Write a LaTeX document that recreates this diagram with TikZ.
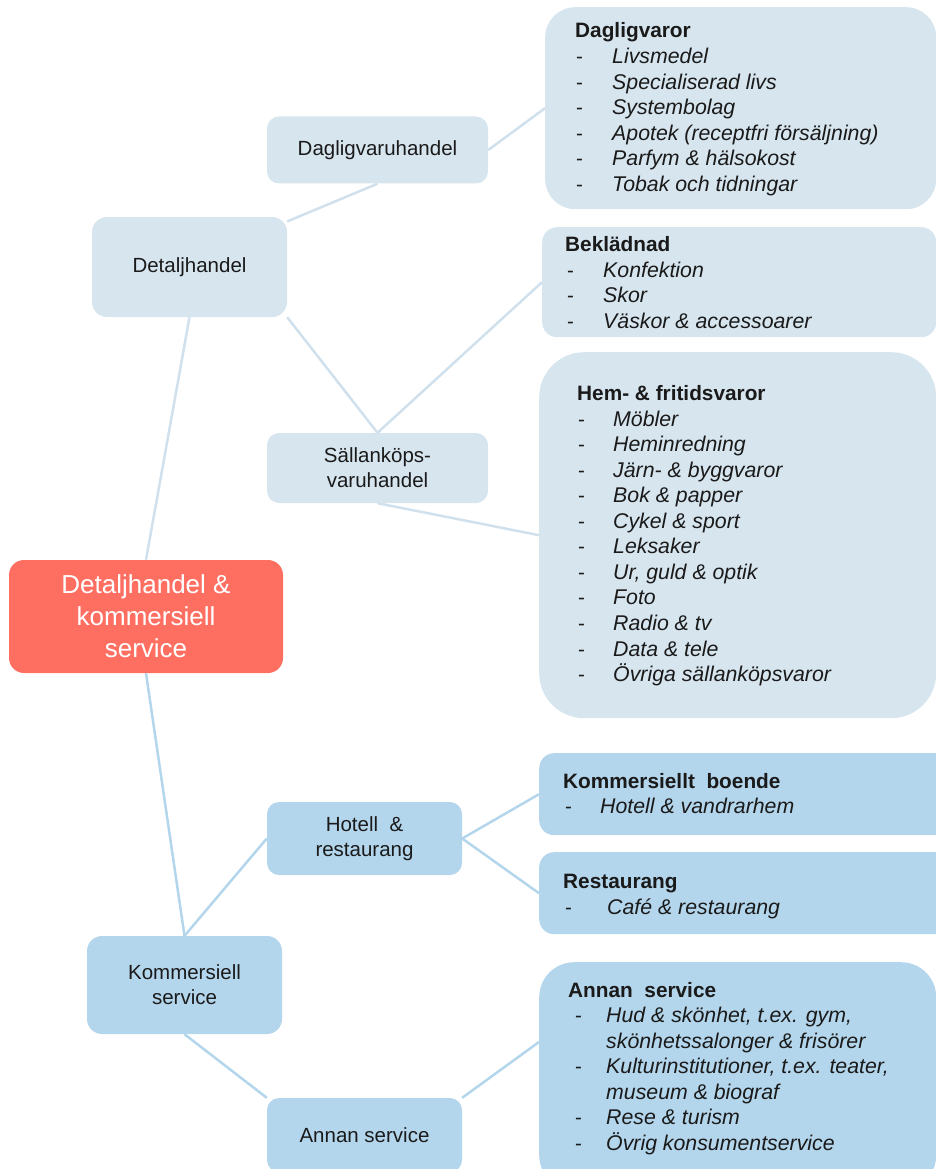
\documentclass[tikz,border=0pt]{standalone}
\usepackage{fontspec}
\setmainfont{Liberation Sans}
\usetikzlibrary{calc}
\definecolor{paleblue}{HTML}{D7E5EF}
\definecolor{midblue}{HTML}{B4D6EC}
\definecolor{redbox}{HTML}{FF6F61}
\definecolor{ink}{HTML}{1A1A1A}
\definecolor{paleline}{HTML}{D0E1ED}
\tikzset{
  basebox/.style={rectangle, inner sep=0pt, text=ink, align=center, font=\fontsize{20.5}{25}\selectfont},
  palebox/.style={basebox, fill=paleblue},
  midbox/.style={basebox, fill=midblue},
  listbox/.style={rectangle, inner sep=0pt, anchor=north west},
  headtxt/.style={anchor=base west, inner sep=0pt, text=ink, font=\fontsize{20.8}{25}\selectfont\bfseries},
  itemtxt/.style={anchor=base west, inner sep=0pt, text=ink, font=\fontsize{21.3}{25}\selectfont\itshape},
  dashmark/.style={anchor=base west, inner sep=0pt, text=ink, font=\fontsize{20.5}{25}\selectfont},
  linkpale/.style={line width=2.5pt, paleline},
  linkmid/.style={line width=2.5pt, midblue},
}
\begin{document}
\begin{tikzpicture}[x=1pt,y=-1pt]
\useasboundingbox (0,0) rectangle (936,1169);
\clip (0,0) rectangle (936,1169);

% root
\node[basebox, fill=redbox, text=white, font=\fontsize{26}{32}\selectfont, rounded corners=15pt,
      minimum width=274pt, minimum height=113pt] (root) at (146,616.5)
      {Detaljhandel \&\\kommersiell\\service};

% second level
\node[palebox, rounded corners=15pt, minimum width=195pt, minimum height=100pt] (detalj) at (189.5,267) {Detaljhandel};
\node[midbox, rounded corners=15pt, minimum width=195pt, minimum height=98pt] (komm) at (184.5,985) {Kommersiell\\service};

% third level
\node[palebox, rounded corners=12pt, minimum width=221pt, minimum height=67pt] (dagh) at (377.5,150) {Dagligvaruhandel};
\node[palebox, rounded corners=12pt, minimum width=221pt, minimum height=70pt] (sallan) at (377.5,468) {Sällanköps-\\varuhandel};
\node[midbox, rounded corners=12pt, minimum width=195pt, minimum height=73pt] (hotell) at (364.5,838.5) {Hotell\ \ \&\\restaurang};
\node[midbox, rounded corners=12pt, minimum width=195pt, minimum height=74pt] (annan) at (364.5,1135) {Annan service};

% list boxes
\node[listbox, fill=paleblue, rounded corners=30pt, minimum width=391pt, minimum height=202pt] (dvbox) at (545,7) {};
\node[listbox, fill=paleblue, rounded corners=15pt, minimum width=394pt, minimum height=110pt] (bekbox) at (542,227) {};
\node[listbox, fill=paleblue, rounded corners=45pt, minimum width=397pt, minimum height=366pt] (hembox) at (539,352) {};
\node[listbox, fill=midblue, rounded corners=15pt, minimum width=420pt, minimum height=82pt] (kbbox) at (539,753) {};
\node[listbox, fill=midblue, rounded corners=15pt, minimum width=420pt, minimum height=82pt] (restbox) at (539,852) {};
\node[listbox, fill=midblue, rounded corners=35pt, minimum width=397pt, minimum height=228pt] (annbox) at (539,962) {};

% Dagligvaror
\node[headtxt] (dvhead) at (575,38) {Dagligvaror};
\foreach \t [count=\i] in {Livsmedel, Specialiserad livs, Systembolag, Apotek (receptfri försäljning), Parfym \& hälsokost, Tobak och tidningar}{
  \node[dashmark] (dvd\i) at (576,{64+25.5*(\i-1)}) {-};
  \node[itemtxt] (dvi\i) at (612,{64+25.5*(\i-1)}) {\t};
}

% Beklädnad
\node[headtxt] (bekhead) at (565,251) {Beklädnad};
\foreach \t [count=\i] in {Konfektion, Skor, Väskor \& accessoarer}{
  \node[dashmark] (bekd\i) at (567,{277+25.5*(\i-1)}) {-};
  \node[itemtxt] (beki\i) at (603,{277+25.5*(\i-1)}) {\t};
}

% Hem- & fritidsvaror
\node[headtxt] (hemhead) at (577,400) {Hem- \& fritidsvaror};
\foreach \t [count=\i] in {Möbler, Heminredning, Järn- \& byggvaror, Bok \& papper, Cykel \& sport, Leksaker, {Ur, guld \& optik}, Foto, Radio \& tv, Data \& tele, Övriga sällanköpsvaror}{
  \node[dashmark] (hemd\i) at (578,{426+25.57*(\i-1)}) {-};
  \node[itemtxt] (hemi\i) at (613,{426+25.57*(\i-1)}) {\t};
}

% Kommersiellt boende
\node[headtxt] (kbhead) at (563,788) {Kommersiellt\ \ boende};
\node[dashmark] (kbd1) at (565,813) {-};
\node[itemtxt] (kbi1) at (600,813) {Hotell \& vandrarhem};

% Restaurang
\node[headtxt] (resthead) at (563,888) {Restaurang};
\node[dashmark] (restd1) at (565,914) {-};
\node[itemtxt] (resti1) at (607,914) {Café \& restaurang};

% Annan service list
\node[headtxt] (annhead) at (568,997) {Annan\ \ service};
\node[dashmark] (annd1) at (575,1022.7) {-};
\node[itemtxt] (anni1) at (606,1022.7) {Hud \& skönhet, t.ex. gym,};
\node[itemtxt] (anni2) at (606,1048.2) {skönhetssalonger \& frisörer};
\node[dashmark] (annd3) at (575,1073.6) {-};
\node[itemtxt] (anni3) at (606,1073.6) {Kulturinstitutioner, t.ex. teater,};
\node[itemtxt] (anni4) at (606,1099.1) {museum \& biograf};
\node[dashmark] (annd5) at (575,1124.5) {-};
\node[itemtxt] (anni5) at (606,1124.5) {Rese \& turism};
\node[dashmark] (annd6) at (575,1150) {-};
\node[itemtxt] (anni6) at (606,1150) {Övrig konsumentservice};

% connectors
\draw[linkpale] (root.north) -- (detalj.south);
\draw[linkpale] (detalj.25) -- (dagh.south);
\draw[linkpale] (dagh.east) -- (dvbox.west);
\draw[linkpale] (detalj.south east) -- (sallan.north);
\draw[linkpale] (sallan.north) -- (bekbox.west);
\draw[linkpale] (sallan.south) -- (hembox.west);
\draw[linkmid] (root.south) -- (komm.north);
\draw[linkmid] (komm.north) -- (hotell.west);
\draw[linkmid] (hotell.east) -- (kbbox.west);
\draw[linkmid] (hotell.east) -- (restbox.west);
\draw[linkmid] (komm.south) -- (annan.north west);
\draw[linkmid] (annan.north east) -- ($(annbox.north west)!0.35!(annbox.south west)$);
\end{tikzpicture}
\end{document}
